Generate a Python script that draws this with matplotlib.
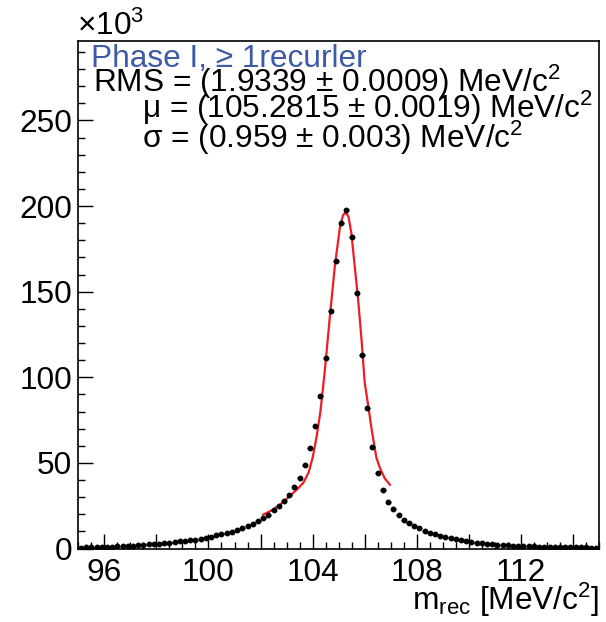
import numpy as np
import matplotlib
matplotlib.use("Agg")
import matplotlib.pyplot as plt
from matplotlib.ticker import MultipleLocator, FuncFormatter

plt.rcParams['font.family'] = ['Liberation Sans', 'DejaVu Sans']
plt.rcParams['mathtext.fontset'] = 'custom'
plt.rcParams['mathtext.rm'] = 'Liberation Sans'
plt.rcParams['mathtext.it'] = 'Liberation Sans:italic'

# bin centres of the m_rec histogram [MeV/c^2], 0.2 wide bins from 95 to 115
bin_lo = 95.0
bin_hi = 115.0
n_bins = 100

# entries per bin, in units of 10^3
counts_k = [
    0.5, 0.6, 0.7, 0.8, 0.9, 1.0, 1.1, 1.2, 1.4, 1.5,
    1.7, 1.9, 2.1, 2.4, 2.6, 2.9, 3.1, 3.4, 3.7, 4.1,
    4.5, 4.8, 5.2, 5.8, 6.4, 7.0, 7.6, 8.3, 8.9, 9.9,
    10.9, 11.8, 13.0, 14.4, 15.8, 17.8, 19.6, 22.2, 24.7, 27.5,
    31.2, 36.1, 41.2, 48.8, 58.5, 71.3, 88.8, 111.1, 138.7, 168.2,
    190.4, 197.7, 181.8, 149.2, 113.2, 82.3, 59.4, 44.2, 34.2, 27.4,
    22.9, 19.6, 16.9, 14.8, 13.0, 11.7, 10.5, 9.3, 8.3, 7.4,
    6.6, 6.0, 5.4, 4.8, 4.3, 3.9, 3.5, 3.1, 2.7, 2.5,
    2.3, 2.1, 1.9, 1.7, 1.6, 1.4, 1.3, 1.2, 1.1, 1.0,
    0.9, 0.9, 0.8, 0.8, 0.7, 0.7, 0.6, 0.6, 0.5, 0.5,
]

# fitted curve
fit_x = [102.1, 102.4, 102.75, 103.1, 103.4, 103.65, 103.85, 104.0, 104.15,
         104.3, 104.47, 104.66, 104.85, 105.05, 105.17, 105.28, 105.38,
         105.49, 105.62, 105.75, 105.88, 106.0, 106.14, 106.27, 106.45,
         106.6, 106.77, 106.97]
fit_y = [19.8, 22.0, 25.6, 30.3, 34.5, 38.5, 44.5, 53.0, 65.0,
         80.0, 104.0, 135.0, 164.5, 187.8, 194.8, 196.3, 193.7,
         184.0, 164.5, 145.1, 121.8, 97.0, 83.0, 69.3, 53.0,
         46.5, 41.0, 37.2]

stat_lines = [
    "RMS = (1.9339 ± 0.0009) MeV/c$^{2}$",
    "μ = (105.2815 ± 0.0019) MeV/c$^{2}$",
    "σ = (0.959 ± 0.003) MeV/c$^{2}$",
]
label_text = "Phase I, ≥ 1recurler"

W, H = 606, 622
fig = plt.figure(figsize=(W / 100, H / 100), dpi=100)


def fx(px):
    return px / W


def fy(py):
    return 1 - py / H


ax = fig.add_axes([fx(78.3), fy(548.5), fx(599) - fx(78.3), fy(40.7) - fy(548.5)])

edges = np.linspace(bin_lo, bin_hi, n_bins + 1)
centres = 0.5 * (edges[1:] + edges[:-1])
half_w = 0.5 * (edges[1] - edges[0])

ax.errorbar(centres, counts_k, xerr=half_w, fmt='o', ms=3.2, color='black',
            elinewidth=1.0, capsize=0, zorder=3)
ax.plot(fit_x, fit_y, color='#ee1c25', lw=1.6, zorder=2)

ax.set_xlim(bin_lo, bin_hi)
ax.set_ylim(0, 296.6)

ax.xaxis.set_major_locator(MultipleLocator(2))
ax.xaxis.set_minor_locator(MultipleLocator(0.5))
ax.xaxis.set_major_formatter(FuncFormatter(lambda v, p: f"{v:.0f}" if round(v) % 4 == 0 else ""))
ax.yaxis.set_major_locator(MultipleLocator(50))
ax.yaxis.set_minor_locator(MultipleLocator(10))
ax.yaxis.set_major_formatter(FuncFormatter(lambda v, p: f"{v:.0f}"))

fs = 22.8
ax.tick_params(which='both', direction='in', top=False, right=False, width=1.0, labelsize=fs)
ax.tick_params(which='major', length=10.5)
ax.tick_params(which='minor', length=5)
ax.tick_params(axis='x', pad=7)
ax.tick_params(axis='y', pad=4.5)
for s in ax.spines.values():
    s.set_linewidth(1.2)

fig.text(fx(76.7), fy(35), "×10$^{3}$", fontsize=fs, va='baseline')
fig.text(fx(90.7), fy(66.7), label_text, fontsize=fs, va='baseline', color='#3d5aa8')
fig.text(fx(93.3), fy(91.7), stat_lines[0], fontsize=fs, va='baseline')
fig.text(fx(141.7), fy(118.3), stat_lines[1], fontsize=fs, va='baseline')
fig.text(fx(141.7), fy(148), stat_lines[2], fontsize=fs, va='baseline')
fig.text(fx(599), fy(610), "m$_{\\rm rec}$ [MeV/c$^{2}$]", fontsize=fs, va='baseline', ha='right')

fig.savefig("out.png", dpi=100)
